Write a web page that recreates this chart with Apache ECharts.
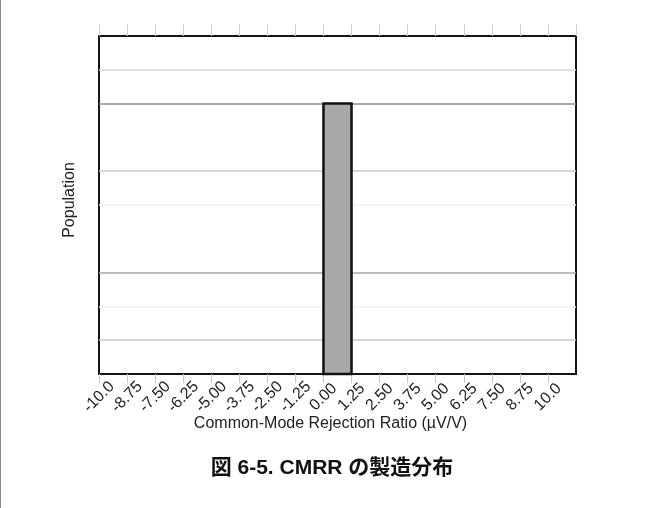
<!DOCTYPE html>
<html>
<head>
<meta charset="utf-8">
<script src="https://cdn.jsdelivr.net/npm/echarts@6/dist/echarts.min.js"></script>
<style>
  html, body { margin: 0; padding: 0; background: #fff; }
  #chart { width: 662px; height: 508px; border-left: 1px solid #8a8a8a; }
</style>
</head>
<body>
<div id="chart"></div>
<script>
// Histogram bins (start, end) and counts
const binStarts = [-10, -8.75, -7.5, -6.25, -5, -3.75, -2.5, -1.25, 0, 1.25, 2.5, 3.75, 5, 6.25, 7.5, 8.75, 10];
const binWidth = 1.25;
const counts = [0, 0, 0, 0, 0, 0, 0, 0, 8, 0, 0, 0, 0, 0, 0, 0, 0];
// Tick values and labels on the x axis
const tickValues = [-10, -8.75, -7.5, -6.25, -5, -3.75, -2.5, -1.25, 0, 1.25, 2.5, 3.75, 5, 6.25, 7.5, 8.75, 10];
const tickLabels = ['-10.0', '-8.75', '-7.50', '-6.25', '-5.00', '-3.75', '-2.50', '-1.25', '0.00', '1.25', '2.50', '3.75', '5.00', '6.25', '7.50', '8.75', '10.0'];
// Horizontal grid line colours at y = 0..10
const gridLineColors = ['rgba(0,0,0,0)', '#c8c8c8', '#f0f0f0', '#a8a8a8', 'rgba(0,0,0,0)', '#f0f0f0', '#c8c8c8', 'rgba(0,0,0,0)', '#8c8c8c', '#d8d8d8', 'rgba(0,0,0,0)'];

const xName = 'Common-Mode Rejection Ratio (\u00b5V/V)';
const yName = 'Population';
const titleText = '図 6-5. CMRR の製造分布';

const chart = echarts.init(document.getElementById('chart'), null, { renderer: 'canvas' });

function labelFor(v) {
  for (let i = 0; i < tickValues.length; i++) {
    if (Math.abs(tickValues[i] - v) < 1e-6) return tickLabels[i];
  }
  return '';
}

const barData = binStarts.map((s, i) => [s, s + binWidth, counts[i]]);

chart.setOption({
  animation: false,
  title: {
    text: titleText,
    left: 'center',
    top: 458,
    padding: [0, 6, 0, 0],
    textStyle: { fontFamily: '"Liberation Sans", "Noto Sans CJK JP", sans-serif', fontWeight: 'bold', fontSize: 21, color: '#111' }
  },
  grid: { left: 98, right: 87, top: 36, bottom: 134, show: true, borderColor: '#151515', borderWidth: 2, backgroundColor: 'transparent' },
  xAxis: [
    {
      type: 'value', position: 'bottom', min: -10, max: 11.25, interval: 1.25,
      axisLine: { show: false },
      axisTick: { show: true, length: 9, lineStyle: { color: '#c8c8c8', width: 1 } },
      axisLabel: {
        rotate: 45, margin: 23, showMaxLabel: false, align: 'center', verticalAlign: 'middle',
        fontFamily: '"Liberation Sans", Arial, sans-serif', fontSize: 16, color: '#222',
        formatter: labelFor
      },
      splitLine: { show: false },
      name: xName, nameLocation: 'middle', nameGap: 42, nameMoveOverlap: false,
      nameTextStyle: { fontFamily: '"Liberation Sans", Arial, sans-serif', fontSize: 16, color: '#222', padding: [0, 14, 0, 0] }
    },
    {
      type: 'value', position: 'top', min: -10, max: 11.25, interval: 1.25,
      axisLine: { show: false },
      axisTick: { show: true, length: 12, lineStyle: { color: '#cfcfcf', width: 1 } },
      axisLabel: { show: false },
      splitLine: { show: false }
    }
  ],
  yAxis: {
    type: 'value', min: 0, max: 10, interval: 1,
    axisLine: { show: false }, axisTick: { show: false }, axisLabel: { show: false },
    splitLine: { show: true, lineStyle: { color: gridLineColors, width: 1.5 } },
    name: yName, nameLocation: 'middle', nameGap: 21, nameRotate: 90,
    nameTextStyle: { fontFamily: '"Liberation Sans", Arial, sans-serif', fontSize: 16, color: '#222', padding: [0, 0, 0, 10] }
  },
  series: [{
    type: 'custom',
    xAxisIndex: 0,
    data: barData,
    encode: { x: [0, 1], y: 2 },
    renderItem: function (params, api) {
      const v = api.value(2);
      if (!v) return null;
      const p0 = api.coord([api.value(0), v]);
      const p1 = api.coord([api.value(1), 0]);
      return {
        type: 'rect',
        shape: { x: p0[0], y: p0[1], width: p1[0] - p0[0], height: p1[1] - p0[1] },
        style: { fill: '#a9a9a9', stroke: '#111', lineWidth: 2.5 }
      };
    }
  }]
});
</script>
</body>
</html>
